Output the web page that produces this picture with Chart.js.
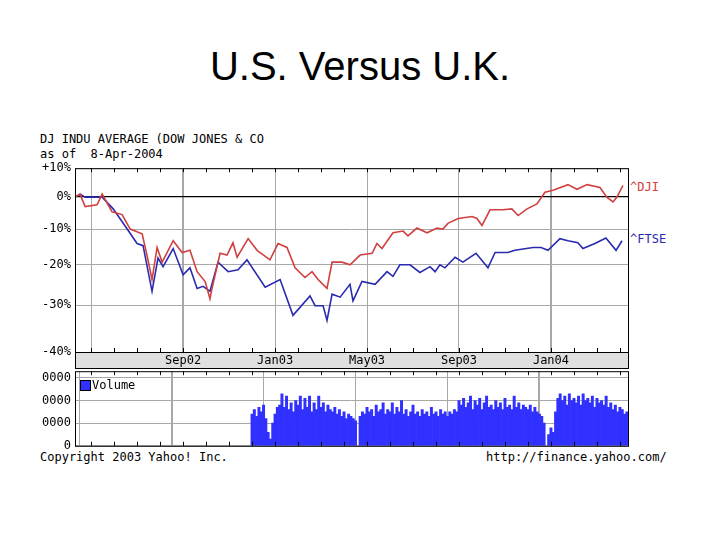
<!DOCTYPE html>
<html><head><meta charset="utf-8">
<script src="https://cdn.jsdelivr.net/npm/chart.js@4"></script>
<style>
body{margin:0;width:720px;height:540px;background:#fff;position:relative;overflow:hidden;font-family:"DejaVu Sans Mono",monospace;}
.t{position:absolute;font-size:12px;white-space:pre;color:#000;}
canvas{position:absolute;}
</style></head><body>
<div style="position:absolute;top:44px;width:720px;text-align:center;font:40px 'Liberation Sans',Arial;">U.S. Versus U.K.</div>
<div class="t" style="left:40px;top:132px">DJ INDU AVERAGE (DOW JONES &amp; CO</div>
<div class="t" style="left:40px;top:147px">as of  8-Apr-2004</div>
<div class="t" style="left:630px;top:180px;color:#d04040">^DJI</div>
<div class="t" style="left:630px;top:232px;color:#2a2ab0">^FTSE</div>
<div class="t" style="left:40px;top:450px">Copyright 2003 Yahoo! Inc.</div>
<div class="t" style="left:486px;top:450px">http://finance.yahoo.com/</div>
<div style="position:absolute;left:0;top:157px;width:720px;height:213px"><canvas id="c1"></canvas></div>
<div style="position:absolute;left:0;top:360px;width:720px;height:97px"><canvas id="c2"></canvas></div>
<div style="position:absolute;left:80px;top:380px;width:9px;height:9px;background:#3030ff;border:1px solid #000"></div>
<div class="t" style="left:92px;top:378px">Volume</div>
<script>
// x values are months since Jan 2002 (e.g. 8 = Sep 2002)
const djiX=[3.30,3.52,3.74,4.26,4.48,4.91,5.35,5.70,6.22,6.43,6.65,6.87,7.09,7.57,7.96,8.30,8.61,8.96,9.17,9.26,9.61,9.91,10.17,10.35,10.83,11.22,11.78,12.13,12.52,12.87,13.30,13.61,13.87,14.26,14.48,14.91,15.26,15.70,16.22,16.43,16.65,17.13,17.57,17.78,18.17,18.61,19.04,19.30,19.52,19.96,20.57,20.78,21.00,21.35,21.91,22.30,22.57,22.96,23.39,23.74,24.09,24.74,25.13,25.57,26.13,26.43,26.70,26.87,27.13];
const djiPct=[0,1,-3.1,-2.5,1,-4.7,-5.6,-10,-11.4,-17.4,-23.8,-15.3,-19.3,-13.4,-16.7,-16.1,-21.8,-24.3,-28.5,-26,-16.9,-17.4,-14,-18,-12.8,-16.1,-18.7,-14.2,-15.3,-20.8,-23.3,-21.8,-23.8,-26,-19.3,-19.3,-20,-17.4,-16.9,-14.2,-15.6,-11.1,-10.6,-12,-9.7,-11.1,-9.7,-10,-8.3,-6.8,-6.2,-6.8,-8.9,-4.1,-4.1,-3.8,-5.9,-3.8,-2.2,1.6,2.3,4.2,2.6,4.2,3.2,0,-1.6,0,3.9];
const ftseX=[3.30,3.52,3.74,4.48,4.96,5.48,6.00,6.26,6.65,6.91,7.13,7.57,8.00,8.30,8.61,8.87,9.17,9.52,9.96,10.39,10.78,11.57,12.22,12.78,13.52,13.74,14.09,14.26,14.48,14.83,15.26,15.39,15.78,16.35,16.87,17.13,17.43,17.87,18.30,18.74,18.96,19.17,19.39,19.83,20.17,20.74,21.26,21.57,22.13,22.43,23.22,23.57,23.87,24.39,24.74,25.17,25.39,25.91,26.39,26.83,27.09];
const ftsePct=[0,1,0,0,-3.8,-9.1,-14.2,-14.8,-26.7,-18.2,-20.5,-15.6,-22.6,-20.8,-26,-25.5,-26.7,-19.3,-21.8,-21.3,-18.7,-25.7,-23.8,-32.3,-27.8,-30.1,-30.1,-33.4,-27.4,-28.1,-25,-29,-24.3,-25,-21.8,-23,-20,-20,-22,-20.5,-21.8,-20,-20.8,-18,-19.3,-16.9,-20.8,-16.7,-16.7,-16.1,-15.3,-15.3,-16.1,-12.8,-13.4,-14,-15.6,-14.2,-12.6,-16.1,-13.4];
const yTickVals=[0.6,0.7,0.8,0.9,1.0,1.1];
const yTickLabels=['-40%','-30%','-20%','-10%','0%','+10%'];
const monthLabels={8:'Sep02',12:'Jan03',16:'May03',20:'Sep03',24:'Jan04'};
const gridMonths=[4,8,12,16,20,24];
const thickMonths=[8,24];
// volume segments: start month, step 0.1 month
const vol1Start=11.0, vol1=[1.4,1.6,1.3,1.7,1.5,1.8,1.2,0.6,0.3];
const vol2Start=11.9, vol2=[1.0,1.4,1.7,1.8,2.3,1.7,2.2,1.6,1.9,1.5,2.0,1.8,2.2,1.6,2.1,1.7,2.2,1.5,1.9,1.6,2.2,1.7,1.9,1.5,1.8,1.6,1.5,1.7,1.4,1.6,1.3,1.5,1.2,1.4,1.3,1.2,1.1];
const vol3Start=15.7, vol3=[1.3,1.5,1.4,1.7,1.5,1.6,1.3,1.8,1.5,1.6,1.9,1.4,1.6,1.5,1.9,1.4,1.7,1.5,2.0,1.4,1.6,1.3,1.5,1.8,1.4,1.5,1.3,1.6,1.4,1.5,1.3,1.7,1.4,1.5,1.3,1.6,1.4,1.5,1.3,1.5,1.4,1.6,1.5,
 2.0,1.8,2.1,1.7,1.9,2.2,1.6,2.0,1.8,2.1,1.6,1.9,2.2,1.7,1.8,1.6,2.0,1.7,1.9,1.6,2.1,1.7,1.8,1.6,2.2,1.7,1.9,1.6,1.8,1.7,1.6,1.8,1.5,1.7,1.5,1.4,1.3,1.0];
const vol4Start=23.9, vol4=[0.5,0.8,0.6,1.5,2.1,2.3,2.0,2.2,1.8,2.3,2.0,2.1,1.9,2.2,1.8,2.3,2.0,2.1,1.9,2.2,1.7,2.1,1.9,2.0,1.8,2.2,1.7,1.9,1.6,1.8,1.5,1.7,1.6,1.4,1.5];
const volTicks=[0,1,2,3], volTickLabels=['0','0000','0000','0000'];

const XMIN=3.30, XMAX=27.35;
const font={family:'DejaVu Sans Mono',size:12};
const gridColor=c=>{const v=c.tick&&c.tick.value;return gridMonths.includes(v)?'#a8a8a8':'rgba(0,0,0,0)';};
const gridWidth=c=>{const v=c.tick&&c.tick.value;return thickMonths.includes(v)?2:1;};
const frame={id:'frame',afterDraw(ch){const a=ch.chartArea,x=ch.scales.x,g=ch.ctx;g.save();
 g.strokeStyle='#000';g.lineWidth=1;
 for(let m=4;m<=27;m++){const px=Math.round(x.getPixelForValue(m))+0.5;g.beginPath();g.moveTo(px,a.top);g.lineTo(px,a.top+4);g.moveTo(px,a.bottom);g.lineTo(px,a.bottom-4);g.stroke();}
 g.strokeRect(a.left+0.5,a.top+0.5,a.right-a.left,a.bottom-a.top);g.restore();}};
const band={id:'band',beforeDraw(ch){const a=ch.chartArea,g=ch.ctx;g.save();g.fillStyle='#e0e0e0';g.fillRect(a.left,a.bottom,a.right-a.left,16);g.strokeStyle='#000';g.strokeRect(a.left+0.5,a.bottom+0.5,a.right-a.left,16);g.restore();}};
const xy=(xs,ps)=>xs.map((x,i)=>({x:x,y:1+ps[i]/100}));
new Chart(document.getElementById('c1'),{type:'line',
 data:{datasets:[
  {data:xy(djiX,djiPct),borderColor:'#d04040',borderWidth:1.6,pointRadius:0,tension:0},
  {data:xy(ftseX,ftsePct),borderColor:'#2a2ab0',borderWidth:1.6,pointRadius:0,tension:0}]},
 options:{responsive:true,maintainAspectRatio:false,animation:false,
  layout:{padding:{top:6,right:92,left:0,bottom:0}},
  plugins:{legend:{display:false},tooltip:{enabled:false}},
  scales:{
   x:{type:'linear',min:XMIN,max:XMAX,afterFit:s=>{s.height=18;},
    afterBuildTicks:s=>{s.ticks=[];for(let m=4;m<=27;m++)s.ticks.push({value:m});},
    ticks:{autoSkip:false,maxRotation:0,padding:2,color:'#000',font:font,callback:v=>monthLabels[v]||''},
    grid:{drawTicks:false,color:gridColor,lineWidth:gridWidth},border:{display:false}},
   y:{type:'logarithmic',min:0.6,max:1.1,afterFit:s=>{s.width=75;},
    afterBuildTicks:s=>{s.ticks=yTickVals.map(v=>({value:v}));},
    ticks:{padding:4,color:'#000',font:font,callback:(v,i)=>yTickLabels[i]},
    grid:{drawTicks:false,color:c=>Math.abs(c.tick.value-1)<1e-6?'#000':'#a8a8a8',lineWidth:c=>Math.abs(c.tick.value-1)<1e-6?1.3:1},border:{display:false}}}},
 plugins:[band,frame]});
const seg=(s,arr)=>arr.map((v,i)=>({x:+(s+i*0.1).toFixed(2),y:v}));
const volData=[...seg(vol1Start,vol1),...seg(vol2Start,vol2),...seg(vol3Start,vol3),...seg(vol4Start,vol4)];
new Chart(document.getElementById('c2'),{type:'bar',
 data:{datasets:[{data:volData,backgroundColor:'#3030ff',barPercentage:1,categoryPercentage:1,borderWidth:0}]},
 options:{responsive:true,maintainAspectRatio:false,animation:false,
  layout:{padding:{top:2,right:92,left:0,bottom:0}},
  plugins:{legend:{display:false},tooltip:{enabled:false}},
  scales:{
   x:{type:'linear',offset:false,min:XMIN,max:XMAX,afterFit:s=>{s.height=2;},
    afterBuildTicks:s=>{s.ticks=[];for(let m=4;m<=27;m++)s.ticks.push({value:m});},
    ticks:{display:false},grid:{drawTicks:false,color:gridColor,lineWidth:gridWidth},border:{display:false}},
   y:{min:0,max:3.3,afterFit:s=>{s.width=75;},
    afterBuildTicks:s=>{s.ticks=volTicks.map(v=>({value:v}));},
    ticks:{padding:4,color:'#000',font:font,callback:(v,i)=>volTickLabels[i]},
    grid:{drawTicks:false,color:'#a8a8a8'},border:{display:false}}}},
 plugins:[frame]});
</script></body></html>
